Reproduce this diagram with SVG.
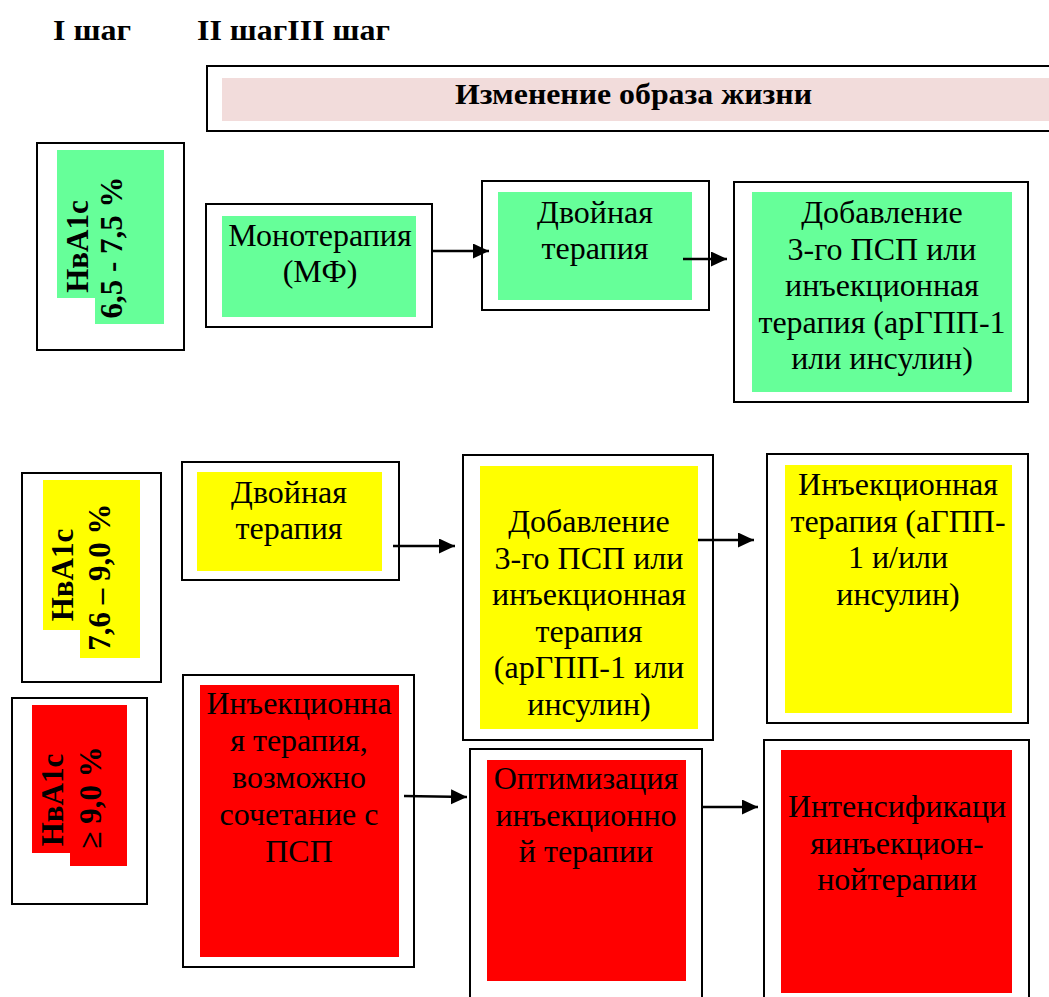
<svg xmlns="http://www.w3.org/2000/svg" width="1049" height="997" viewBox="0 0 1049 997">
<style>
.box{fill:#fff;stroke:#000;stroke-width:2}
.g{fill:#66ff99}.y{fill:#ffff00}.r{fill:#ff0000}.p{fill:#f2dcdb}
.t{font-family:"Liberation Serif",serif;font-weight:400;font-size:32px;fill:#000;text-anchor:middle}
.b{font-family:"Liberation Serif",serif;font-size:30px;font-weight:bold;fill:#000}
.lb{font-family:"Liberation Serif",serif;font-size:31px;font-weight:bold;fill:#000;text-anchor:middle}
.c{stroke:#000;stroke-width:2.5;fill:none;marker-end:url(#ah)}
</style>
<defs>
<marker id="ah" markerUnits="userSpaceOnUse" markerWidth="17" markerHeight="16" refX="16" refY="7.5" orient="auto">
<path d="M0,0 L16,7.5 L0,15 Z" fill="#000"/>
</marker>
</defs>
<rect width="1049" height="997" fill="#fff"/>
<g id="headers">
<text class="b" x="53" y="40" textLength="78" lengthAdjust="spacingAndGlyphs">I шаг</text>
<text class="b" x="197" y="40" textLength="193" lengthAdjust="spacingAndGlyphs">II шагIII шаг</text>
</g>
<g id="lifestyle">
<rect class="box" x="207" y="66" width="860" height="65"/>
<rect class="p" x="222" y="78" width="827" height="43"/>
<text class="b" x="455" y="104" textLength="357" lengthAdjust="spacingAndGlyphs">Изменение образа жизни</text>
</g>
<g id="label-green">
<rect class="box" x="37" y="143" width="147" height="207"/>
<path class="g" d="M57,150 H164 V324 H95 V298 H57 Z"/>
<text class="lb" transform="translate(88,246.5) rotate(-90)">НвA1c</text>
<text class="lb" transform="translate(122,247.5) rotate(-90)">6,5 - 7,5 %</text>
</g>
<g id="label-yellow">
<rect class="box" x="22" y="473" width="139" height="209"/>
<path class="y" d="M43,480 H140 V658 H80 V630 H43 Z"/>
<text class="lb" transform="translate(73,575) rotate(-90)">НвA1c</text>
<text class="lb" transform="translate(110,577) rotate(-90)">7,6 – 9,0 %</text>
</g>
<g id="label-red">
<rect class="box" x="12" y="698" width="135" height="206"/>
<path class="r" d="M32,705 H127 V866 H70 V853 H32 Z"/>
<text class="lb" transform="translate(63,800) rotate(-90)">НвA1c</text>
<text class="lb" transform="translate(101,797.5) rotate(-90)">≥ 9,0 %</text>
</g>
<g id="mono">
<rect class="box" x="206" y="204" width="226" height="123"/>
<rect class="g" x="222" y="216" width="194" height="101"/>
<text class="t" x="320" y="246">Монотерапия</text>
<text class="t" x="320" y="282">(МФ)</text>
</g>
<g id="dual1">
<rect class="box" x="482" y="181" width="227" height="129"/>
<rect class="g" x="498" y="192" width="194" height="108"/>
<text class="t" x="595" y="223">Двойная</text>
<text class="t" x="595" y="259">терапия</text>
</g>
<g id="add1">
<rect class="box" x="734" y="182" width="294" height="220"/>
<rect class="g" x="752" y="192" width="260" height="200"/>
<text class="t" x="882" y="223">Добавление</text>
<text class="t" x="882" y="259.5">3-го ПСП или</text>
<text class="t" x="882" y="296">инъекционная</text>
<text class="t" x="882" y="332.5">терапия (арГПП-1</text>
<text class="t" x="882" y="369">или инсулин)</text>
</g>
<g id="dual2">
<rect class="box" x="182" y="462" width="217" height="118"/>
<rect class="y" x="197" y="472" width="185" height="99"/>
<text class="t" x="289" y="503">Двойная</text>
<text class="t" x="289" y="539">терапия</text>
</g>
<g id="add2">
<rect class="box" x="463" y="455" width="250" height="285"/>
<rect class="y" x="480" y="466" width="218" height="263"/>
<text class="t" x="589" y="532">Добавление</text>
<text class="t" x="589" y="568.5">3-го ПСП или</text>
<text class="t" x="589" y="605">инъекционная</text>
<text class="t" x="589" y="641.5">терапия</text>
<text class="t" x="589" y="678">(арГПП-1 или</text>
<text class="t" x="589" y="714.5">инсулин)</text>
</g>
<g id="inj2">
<rect class="box" x="767" y="454" width="261" height="269"/>
<rect class="y" x="785" y="465" width="227" height="248"/>
<text class="t" x="898" y="495">Инъекционная</text>
<text class="t" x="898" y="531.5">терапия (аГПП-</text>
<text class="t" x="898" y="568">1 и/или</text>
<text class="t" x="898" y="604.5">инсулин)</text>
</g>
<g id="inj3">
<rect class="box" x="183" y="675" width="231" height="292"/>
<rect class="r" x="200" y="685" width="199" height="272"/>
<text class="t" x="299" y="714">Инъекционна</text>
<text class="t" x="299" y="751">я терапия,</text>
<text class="t" x="299" y="788">возможно</text>
<text class="t" x="299" y="825">сочетание с</text>
<text class="t" x="299" y="862">ПСП</text>
</g>
<g id="optim">
<rect class="box" x="470" y="749" width="232" height="260"/>
<rect class="r" x="487" y="760" width="199" height="221"/>
<text class="t" x="586" y="789">Оптимизация</text>
<text class="t" x="586" y="825.5">инъекционно</text>
<text class="t" x="586" y="862">й терапии</text>
</g>
<g id="intens">
<rect class="box" x="764" y="740" width="265" height="270"/>
<rect class="r" x="781" y="750" width="231" height="243"/>
<text class="t" x="897" y="817">Интенсификаци</text>
<text class="t" x="897" y="853.5">яинъекцион-</text>
<text class="t" x="897" y="890">нойтерапии</text>
</g>
<g id="connectors">
<line class="c" x1="432" y1="251" x2="489" y2="251"/>
<line class="c" x1="683" y1="259" x2="727" y2="259"/>
<line class="c" x1="393" y1="546" x2="455" y2="546"/>
<line class="c" x1="698" y1="540" x2="754" y2="540"/>
<line class="c" x1="404" y1="796" x2="467" y2="797"/>
<line class="c" x1="703" y1="807" x2="758" y2="807"/>
</g>
</svg>
